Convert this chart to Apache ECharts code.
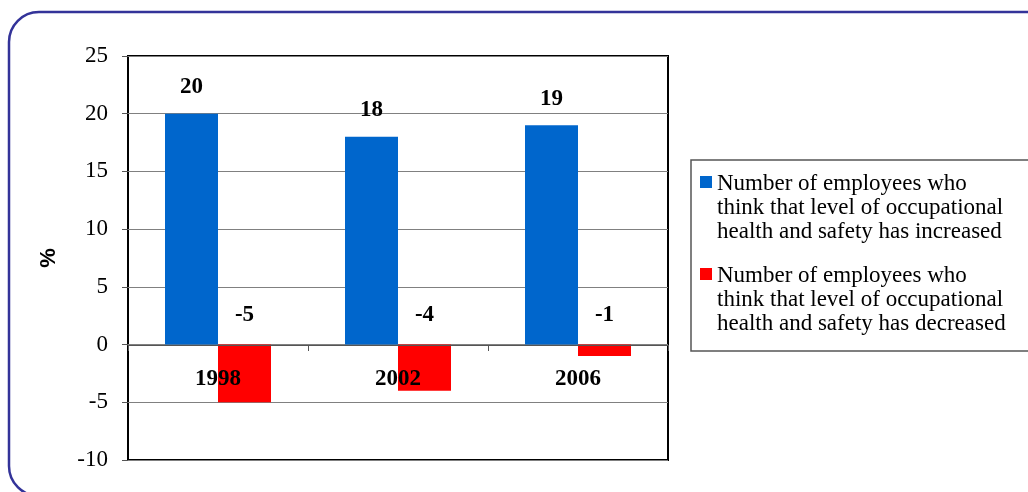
<!DOCTYPE html>
<html>
<head>
<meta charset="utf-8">
<script src="https://cdn.jsdelivr.net/npm/echarts@6/dist/echarts.min.js"></script>
<style>
  html, body { margin: 0; padding: 0; background: #fff; }
  #main { width: 1028px; height: 492px; }
</style>
</head>
<body>
<div id="main"></div>
<script>
var years = ['1998', '2002', '2006'];
var increased = [20, 18, 19];
var decreased = [-5, -4, -1];
var seriesNames = [
  'Number of employees who\nthink that level of occupational\nhealth and safety has increased',
  'Number of employees who\nthink that level of occupational\nhealth and safety has decreased'
];

var chart = echarts.init(document.getElementById('main'));
var serif = '"Liberation Serif", "Times New Roman", serif';

// square at the top of a tall invisible box so the marker sits on the first text line
var legendIcon = 'path://M0,4h12v12h-12z M0,0h0.01v0.01z M0,72h0.01v0.01z';

var labelStyle = {
  show: true,
  position: 'top',
  fontFamily: serif,
  fontWeight: 'bold',
  fontSize: 23,
  color: '#000'
};

var option = {
  animation: false,
  backgroundColor: '#fff',
  graphic: [
    {
      type: 'rect',
      shape: { x: 9, y: 12, width: 1060, height: 484, r: 30 },
      style: { fill: 'none', stroke: '#333399', lineWidth: 2.5 },
      silent: true
    },
    {
      type: 'rect',
      shape: { x: 691, y: 160, width: 400, height: 191 },
      style: { fill: '#fff', stroke: '#555', lineWidth: 1.5 },
      silent: true,
      z: -1
    }
  ],
  legend: {
    orient: 'vertical',
    left: 700,
    top: 172,
    padding: 0,
    itemWidth: 12,
    itemHeight: 72,
    itemGap: 20,
    symbolKeepAspect: false,
    icon: legendIcon,
    textStyle: {
      fontFamily: serif,
      fontSize: 23,
      lineHeight: 24,
      color: '#000'
    },
    data: seriesNames
  },
  grid: {
    left: 128,
    right: 360,
    top: 56,
    bottom: 32,
    show: true,
    borderColor: '#000',
    borderWidth: 2,
    containLabel: false,
    outerBoundsMode: 'none'
  },
  xAxis: {
    type: 'category',
    data: years,
    z: 5,
    offset: -115,
    axisLine: { onZero: false, lineStyle: { color: '#555', width: 1 } },
    axisTick: { show: true, length: 6, lineStyle: { color: '#555' } },
    axisLabel: {
      margin: 23,
      fontFamily: serif,
      fontWeight: 'bold',
      fontSize: 23,
      color: '#000'
    },
    splitLine: { show: false }
  },
  yAxis: {
    type: 'value',
    min: -10,
    max: 25,
    interval: 5,
    name: '%',
    nameLocation: 'middle',
    nameGap: 68,
    nameTextStyle: {
      fontFamily: '"Liberation Sans", Arial, sans-serif',
      fontWeight: 'bold',
      fontSize: 22,
      color: '#000'
    },
    axisLine: { show: false },
    axisTick: { show: true, length: 6, lineStyle: { color: '#555' } },
    axisLabel: {
      margin: 20,
      fontFamily: serif,
      fontSize: 23,
      color: '#000'
    },
    splitLine: { show: true, lineStyle: { color: '#808080', width: 1 } }
  },
  series: [
    {
      name: seriesNames[0],
      type: 'bar',
      data: increased,
      barWidth: 53,
      barGap: '0%',
      itemStyle: { color: '#0066CC' },
      label: Object.assign({ distance: 15 }, labelStyle)
    },
    {
      name: seriesNames[1],
      type: 'bar',
      data: decreased,
      barWidth: 53,
      barGap: '0%',
      itemStyle: { color: '#FF0000' },
      label: Object.assign({ distance: 18 }, labelStyle)
    }
  ]
};

chart.setOption(option);
</script>
</body>
</html>
